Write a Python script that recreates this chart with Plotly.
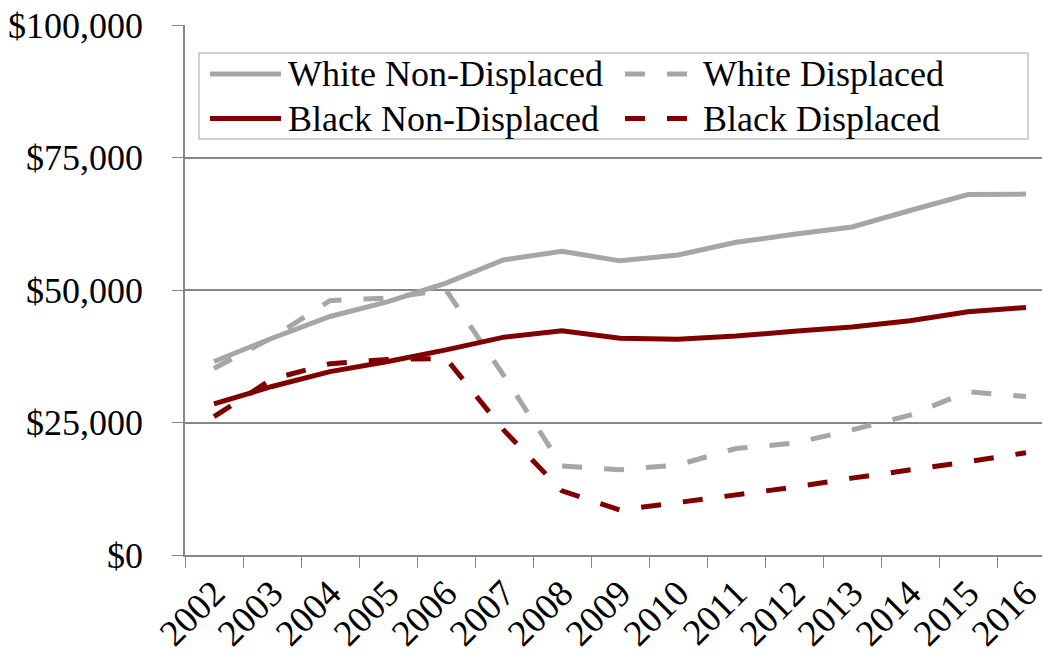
import plotly.graph_objects as go

# Median household wealth by year and group
years = ["2002", "2003", "2004", "2005", "2006", "2007", "2008", "2009",
         "2010", "2011", "2012", "2013", "2014", "2015", "2016"]

white_non_displaced = [36500, 40900, 45000, 47800, 51300, 55700, 57300, 55500,
                       56600, 59000, 60500, 61900, 65000, 68000, 68100]
white_displaced = [35200, 41000, 48000, 48500, 50000, 33800, 16800, 16100,
                   17000, 20100, 21100, 23600, 26400, 30800, 29900]
black_non_displaced = [28500, 31800, 34600, 36500, 38700, 41100, 42300, 40900,
                       40700, 41300, 42200, 43000, 44200, 45900, 46700]
black_displaced = [26100, 33200, 36100, 36900, 37100, 23500, 12100, 8500,
                   9900, 11300, 12800, 14500, 16000, 17600, 19300]

y_ticks = [0, 25000, 50000, 75000, 100000]
y_tick_labels = ["&#36;0", "&#36;25,000", "&#36;50,000", "&#36;75,000", "&#36;100,000"]

series_names = ["White Non-Displaced", "White Displaced",
                "Black Non-Displaced", "Black Displaced"]

GRAY = "#A6A6A6"
MAROON = "#800000"
AXIS = "#868686"
FONT = "Liberation Serif, Times New Roman, serif"
DASH = "20px,22px"
LW = 5

W, H = 1042, 656
ML, MR, MT, MB = 185, 0, 25, 101
PW, PH = W - ML - MR, H - MT - MB
CAT_PX = 58  # width of one year slot

fig = go.Figure()
styles = [
    (white_non_displaced, GRAY, "solid"),
    (white_displaced, GRAY, DASH),
    (black_non_displaced, MAROON, "solid"),
    (black_displaced, MAROON, DASH),
]
for name, (vals, color, dash) in zip(series_names, styles):
    fig.add_trace(go.Scatter(
        x=years, y=vals, mode="lines", name=name,
        line=dict(color=color, width=LW, dash=dash),
        showlegend=False, hoverinfo="skip",
    ))


def px_x(p):
    return (p - ML) / PW


def px_y(p):
    return (MT + PH - p) / PH


# Legend panel
shapes = [dict(type="rect", xref="paper", yref="paper",
               x0=px_x(199), x1=px_x(1028), y0=px_y(139), y1=px_y(53),
               line=dict(color="#A0A0A0", width=1), fillcolor="white", layer="above")]
annotations = []
rows = [74, 118.5]
legend_items = [
    (series_names[0], GRAY, "solid", 0, 0),
    (series_names[1], GRAY, DASH, 1, 0),
    (series_names[2], MAROON, "solid", 0, 1),
    (series_names[3], MAROON, DASH, 1, 1),
]
col_sym = [(210, 281), (625, 689)]
col_txt = [286, 701]
for name, color, dash, col, row in legend_items:
    x0, x1 = col_sym[col]
    y = rows[row]
    shapes.append(dict(type="line", xref="paper", yref="paper",
                       x0=px_x(x0), x1=px_x(x1), y0=px_y(y), y1=px_y(y),
                       line=dict(color=color, width=LW, dash=dash), layer="above"))
    annotations.append(dict(xref="paper", yref="paper", x=px_x(col_txt[col]), y=px_y(y),
                            text=name, showarrow=False, xanchor="left", yanchor="middle",
                            font=dict(family=FONT, size=36, color="black")))

fig.update_layout(
    width=W, height=H,
    margin=dict(l=ML, r=MR, t=MT, b=MB, pad=0, autoexpand=False),
    paper_bgcolor="white", plot_bgcolor="white",
    font=dict(family=FONT, size=36, color="black"),
    shapes=shapes, annotations=annotations,
    showlegend=False,
)
fig.update_xaxes(
    type="category", range=[-0.5, -0.5 + PW / CAT_PX], automargin=False,
    tickson="boundaries", ticks="outside", ticklen=11, tickwidth=1, tickcolor=AXIS,
    showline=True, linecolor=AXIS, linewidth=1.5, showgrid=False, zeroline=False,
    tickangle=-45, ticklabelstandoff=0,
    tickfont=dict(family=FONT, size=37, color="black"),
)
fig.update_yaxes(
    range=[0, 100000], tickvals=y_ticks, ticktext=y_tick_labels, automargin=False,
    ticks="outside", ticklen=11, tickwidth=1, tickcolor=AXIS,
    showline=True, linecolor=AXIS, linewidth=1.5,
    showgrid=True, gridcolor=AXIS, gridwidth=1.5, zeroline=False,
    ticklabelstandoff=22, tickfont=dict(family=FONT, size=36, color="black"),
)

fig.write_html("out.html")
